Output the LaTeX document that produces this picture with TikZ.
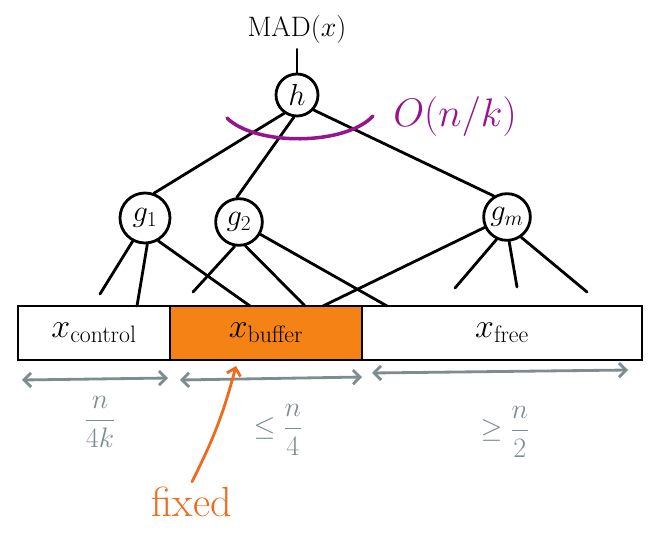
\documentclass[tikz,border=0pt]{standalone}
\usepackage{fix-cm}
\usepackage{amsmath, amssymb}
\usepackage{xcolor}
\usetikzlibrary{arrows.meta, positioning, calc}

\definecolor{sketchpurple}{RGB}{150,20,140}
\definecolor{sketchorange}{RGB}{245,130,20}
\definecolor{fixorange}{RGB}{240,105,30}
\definecolor{sketchgray}{RGB}{125,140,145}

\begin{document}
\begin{tikzpicture}[
    x=0.03cm, y=-0.03cm,
    line width=2.4pt, line cap=round,
    % 圆形节点（函数）
    gate/.style={draw, circle, minimum size=1.4cm, inner sep=0pt, font=\fontsize{26}{28}\selectfont},
    % 数组段
    cell/.style={draw, minimum height=1.62cm, inner sep=0pt, outer sep=0pt, font=\fontsize{29}{31}\selectfont},
    % 长度标注
    span/.style={draw=sketchgray, {Straight Barb[length=6pt,width=12pt]}-{Straight Barb[length=6pt,width=12pt]}},
    dim/.style={text=sketchgray, font=\fontsize{24}{26}\selectfont}
]
\useasboundingbox (0,0) rectangle (653,540);

% 数组 x
\node[cell, minimum width=4.56cm, anchor=north west] (ctrl) at (18,306) {$x_{\mathrm{control}}$};
\node[cell, minimum width=5.76cm, fill=sketchorange, right=0pt of ctrl] (buf) {$x_{\mathrm{buffer}}$};
\node[cell, minimum width=8.4cm, right=0pt of buf] (free) {$x_{\mathrm{free}}$};

% 树
\node[gate, minimum size=1.26cm] (h) at (297,95) {$h$};
\node[above=0.7cm of h, font=\fontsize{24}{26}\selectfont] (mad) {$\mathrm{MAD}(x)$};
\node[gate, minimum size=1.5cm] (g1) at (145,218) {$g_1$};
\node[gate] (g2) at (239,222) {$g_2$};
\node[gate] (gm) at (507,217) {$g_m$};

\draw (mad) -- (h);
\draw (h.235) -- (g1.70);
\draw (h.262) -- (g2.95);
\draw (h.318) -- (gm.122);

% 输入位
\foreach \n/\px/\py in {a/100/294, b/137/306, c/250/306, d/193/292, e/305/306,
                        f/387/306, p/323/306, q/455/288, r/517/287, s/587/292}
    \coordinate (\n) at (\px,\py);
\foreach \g/\ang/\n in {g1/242/a, g1/275/b, g1/300/c, g2/260/d, g2/285/e,
                        g2/330/f, gm/205/p, gm/245/q, gm/275/r, gm/305/s}
    \draw (\g.\ang) -- (\n);

% 代价
\draw[sketchpurple, line width=3pt] (227,118) .. controls (255,146) and (345,146) .. (373,116);
\node[text=sketchpurple, font=\fontsize{34}{36}\selectfont] (cost) at (455,117) {$O(n/k)$};

% 长度
\draw[span] ($(ctrl.south west)+(4,20)$) -- ($(ctrl.south east)+(-2,18)$);
\draw[span] ($(buf.south west)+(10,20)$) -- ($(buf.south east)+(0,17)$);
\draw[span] ($(free.south west)+(10,13)$) -- ($(free.south east)+(-14,10)$);
\node[dim] (q1) at (100,422) {$\dfrac{n}{4k}$};
\node[dim] (q2) at (278,430) {$\le \dfrac{n}{4}$};
\node[dim] (q3) at (505,432) {$\ge \dfrac{n}{2}$};

% 固定
\node[text=fixorange, font=\fontsize{36}{38}\selectfont] (fixed) at (192,502) {fixed};
\coordinate (pin) at (236,366);
\draw[fixorange, -{Straight Barb[length=6pt,width=12pt]}] (fixed.north) to[bend right=6] (pin);

\end{tikzpicture}
\end{document}
